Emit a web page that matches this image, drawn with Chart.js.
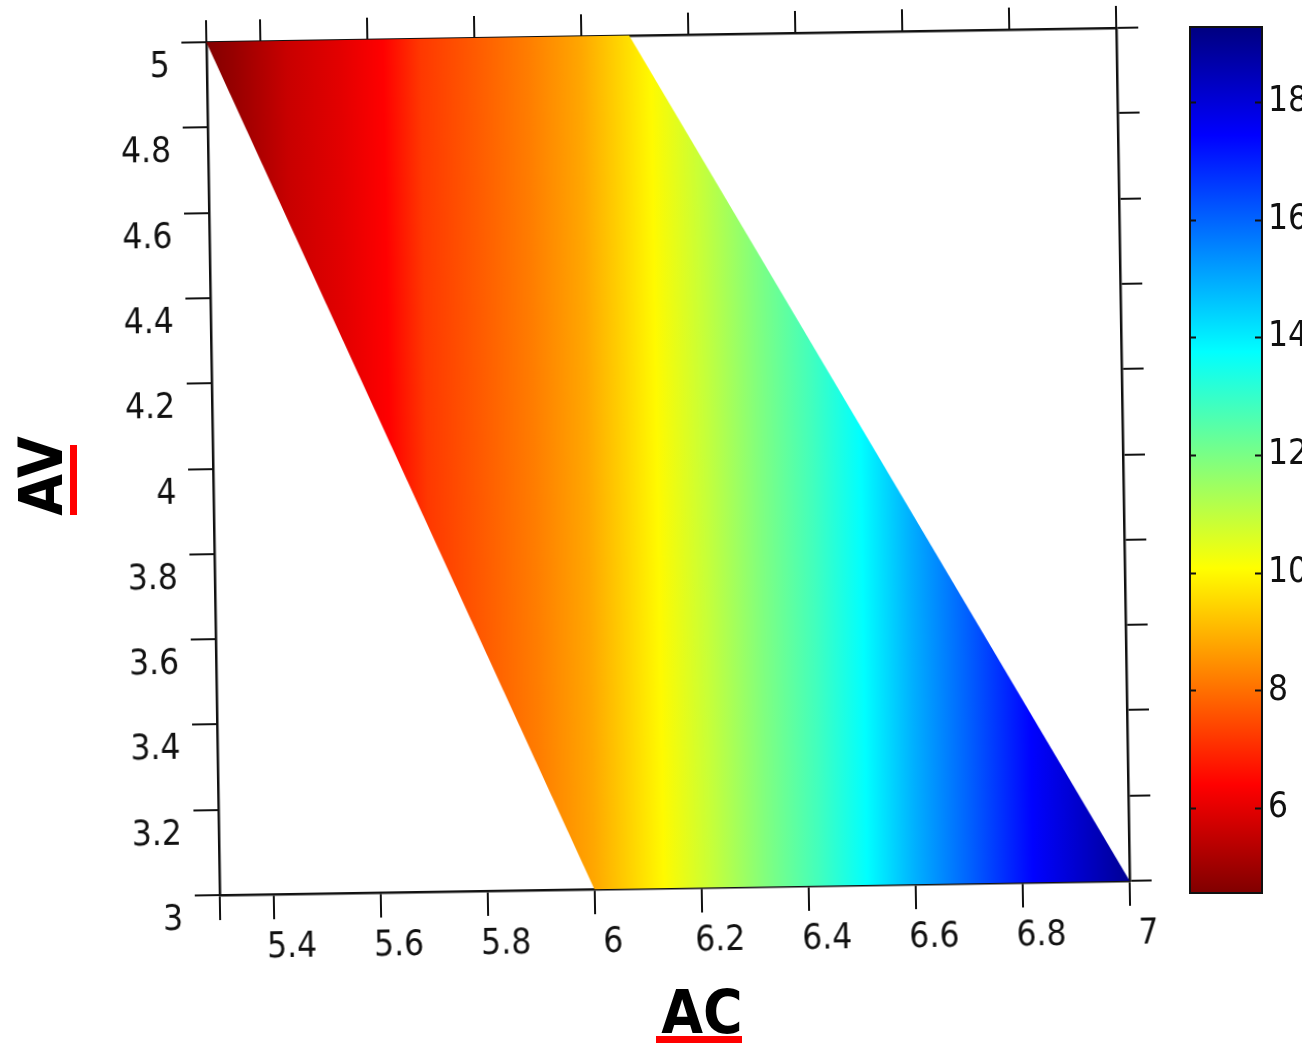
<!DOCTYPE html>
<html>
<head>
<meta charset="utf-8">
<script src="https://cdn.jsdelivr.net/npm/chart.js@4.4.1/dist/chart.umd.min.js"></script>
<style>
  body { margin: 0; background: #fff; width: 1315px; height: 1044px; position: relative; overflow: hidden; }
  #map { position: absolute; left: 0; top: 0; transform: rotate(-0.9deg); transform-origin: 668px 461px; }
  #bar { position: absolute; left: 1150px; top: 0; }
  .axis-title { position: absolute; font: bold 60px 'Liberation Sans Narrow', 'DejaVu Sans Condensed', sans-serif; color: #000; line-height: 1; white-space: nowrap; }
  #title-av { left: 41px; top: 476px; transform: translate(-50%, -50%) rotate(-90deg); }
  #title-ac { left: 702px; top: 1012px; transform: translate(-50%, -50%); }
  .mark { position: absolute; background: #ff0000; }
  #mark-av { left: 70px; top: 445px; width: 7px; height: 70px; }
  #mark-ac { left: 656px; top: 1036px; width: 86px; height: 7px; }
</style>
</head>
<body>
<canvas id="map" width="1180" height="1044"></canvas>
<canvas id="bar" width="152" height="1044"></canvas>
<div class="axis-title" id="title-av">AV</div>
<div class="mark" id="mark-av"></div>
<div class="axis-title" id="title-ac">AC</div>
<div class="mark" id="mark-ac"></div>
<script>
// colour value along AC
const acSamples = [5.30, 5.35, 5.45, 5.55, 5.63, 5.70, 5.80, 5.90, 6.00, 6.13, 6.22, 6.32, 6.42, 6.51, 6.60, 6.70, 6.82, 6.91, 7.00];
const zValues   = [4.6, 4.9, 5.6, 6.0, 6.4, 7.2, 7.7, 8.2, 8.8, 10.0, 10.9, 11.9, 12.8, 13.75, 14.9, 16.0, 17.4, 18.2, 19.0];

// corners of the feasible region (AC, AV)
const regionAC = [5.30, 6.09, 7.00, 6.00, 5.30];
const regionAV = [5.00, 5.00, 3.00, 3.00, 5.00];

const xTicks = [5.3, 5.4, 5.6, 5.8, 6.0, 6.2, 6.4, 6.6, 6.8, 7.0];
const xTickLabels = ['', '5.4', '5.6', '5.8', '6', '6.2', '6.4', '6.6', '6.8', '7'];
const yTicks = [3.0, 3.2, 3.4, 3.6, 3.8, 4.0, 4.2, 4.4, 4.6, 4.8, 5.0];
const yTickLabels = ['3', '3.2', '3.4', '3.6', '3.8', '4', '4.2', '4.4', '4.6', '4.8', '5'];

const cbTicks = [6, 8, 10, 12, 14, 16, 18];
const cbMin = 4.56;
const cbMax = 19.27;

// reversed jet colormap
const jetStops = [
  [0, [128, 0, 0]], [0.125, [255, 0, 0]], [0.375, [255, 255, 0]],
  [0.625, [0, 255, 255]], [0.875, [0, 0, 255]], [1, [0, 0, 128]]
];

function jet(v) {
  const t = Math.min(1, Math.max(0, (v - cbMin) / (cbMax - cbMin)));
  for (let i = 1; i < jetStops.length; i++) {
    const [t1, c1] = jetStops[i];
    if (t <= t1) {
      const [t0, c0] = jetStops[i - 1];
      const f = (t - t0) / (t1 - t0);
      const c = c0.map((a, k) => Math.round(a + (c1[k] - a) * f));
      return 'rgb(' + c.join(',') + ')';
    }
  }
  return 'rgb(0,0,128)';
}

const tickFont = { family: "'Liberation Sans Narrow', 'DejaVu Sans Condensed', sans-serif", size: 35 };
const black = '#111';

function regionFill(ctx) {
  const chart = ctx.chart;
  const x = chart.scales.x;
  if (!chart.chartArea || !x) return 'rgba(0,0,0,0)';
  const first = acSamples[0];
  const last = acSamples[acSamples.length - 1];
  const g = chart.ctx.createLinearGradient(x.getPixelForValue(first), 0, x.getPixelForValue(last), 0);
  acSamples.forEach((ac, i) => g.addColorStop((ac - first) / (last - first), jet(zValues[i])));
  return g;
}

function tickMarks(length) {
  return { drawOnChartArea: false, drawTicks: true, tickLength: length, color: black, lineWidth: 2 };
}

new Chart(document.getElementById('map'), {
  type: 'scatter',
  data: {
    datasets: [{
      data: regionAC.map((ac, i) => ({ x: ac, y: regionAV[i] })),
      showLine: true,
      fill: 'shape',
      borderWidth: 0,
      pointRadius: 0,
      backgroundColor: regionFill
    }]
  },
  options: {
    responsive: false,
    animation: false,
    layout: { padding: 0 },
    plugins: { legend: { display: false }, tooltip: { enabled: false } },
    scales: {
      x: {
        type: 'linear', position: 'bottom', min: 5.3, max: 7.0,
        afterBuildTicks: s => { s.ticks = xTicks.map(v => ({ value: v })); },
        afterFit: s => { s.height = 156; },
        ticks: { callback: (v, i) => xTickLabels[i], font: tickFont, color: black, padding: 8, labelOffset: 18, maxRotation: 0 },
        grid: tickMarks(25),
        border: { display: true, color: black, width: 2.5 }
      },
      x2: {
        type: 'linear', position: 'top', min: 5.3, max: 7.0,
        afterBuildTicks: s => { s.ticks = xTicks.map(v => ({ value: v })); },
        afterFit: s => { s.height = 35; },
        ticks: { display: false },
        grid: tickMarks(22),
        border: { display: true, color: black, width: 2.5 }
      },
      y: {
        type: 'linear', position: 'left', min: 3.0, max: 5.0,
        afterBuildTicks: s => { s.ticks = yTicks.map(v => ({ value: v })); },
        afterFit: s => { s.width = 213; },
        ticks: { callback: (v, i) => yTickLabels[i], font: tickFont, color: black, padding: 12, labelOffset: 25 },
        grid: tickMarks(25),
        border: { display: true, color: black, width: 2.5 }
      },
      y2: {
        type: 'linear', position: 'right', min: 3.0, max: 5.0,
        afterBuildTicks: s => { s.ticks = yTicks.map(v => ({ value: v })); },
        afterFit: s => { s.width = 57; },
        ticks: { display: false },
        grid: tickMarks(22),
        border: { display: true, color: black, width: 2.5 }
      }
    }
  }
});

function barFill(ctx) {
  const chart = ctx.chart;
  const y = chart.scales.y;
  if (!chart.chartArea || !y) return 'rgba(0,0,0,0)';
  const g = chart.ctx.createLinearGradient(0, y.getPixelForValue(cbMin), 0, y.getPixelForValue(cbMax));
  jetStops.forEach(([t, c]) => g.addColorStop(t, 'rgb(' + c.join(',') + ')'));
  return g;
}

// outline of the colour bar plus short inward ticks on both edges
const frame = {
  id: 'frame',
  afterDatasetsDraw(chart) {
    const { ctx, chartArea: a } = chart;
    const y = chart.scales.y;
    ctx.save();
    ctx.strokeStyle = black;
    ctx.lineWidth = 2;
    ctx.strokeRect(a.left, a.top, a.right - a.left, a.bottom - a.top);
    ctx.beginPath();
    cbTicks.forEach(v => {
      const py = Math.round(y.getPixelForValue(v)) + 0.5;
      ctx.moveTo(a.left, py); ctx.lineTo(a.left + 6, py);
      ctx.moveTo(a.right - 7, py); ctx.lineTo(a.right, py);
    });
    ctx.stroke();
    ctx.restore();
  }
};

new Chart(document.getElementById('bar'), {
  type: 'bar',
  data: {
    labels: ['z'],
    datasets: [{
      data: [[cbMin, cbMax]],
      backgroundColor: barFill,
      borderWidth: 0,
      barPercentage: 1,
      categoryPercentage: 1
    }]
  },
  options: {
    responsive: false,
    animation: false,
    layout: { padding: { left: 40, top: 22, bottom: 151, right: 0 } },
    plugins: { legend: { display: false }, tooltip: { enabled: false } },
    scales: {
      x: { display: false },
      y: {
        position: 'right', min: cbMin, max: cbMax,
        afterBuildTicks: s => { s.ticks = cbTicks.map(v => ({ value: v })); },
        afterFit: s => { s.width = 40; },
        ticks: { font: tickFont, color: black, padding: 6 },
        grid: { display: true, drawOnChartArea: false, drawTicks: false },
        border: { display: false }
      }
    }
  },
  plugins: [frame]
});
</script>
</body>
</html>
